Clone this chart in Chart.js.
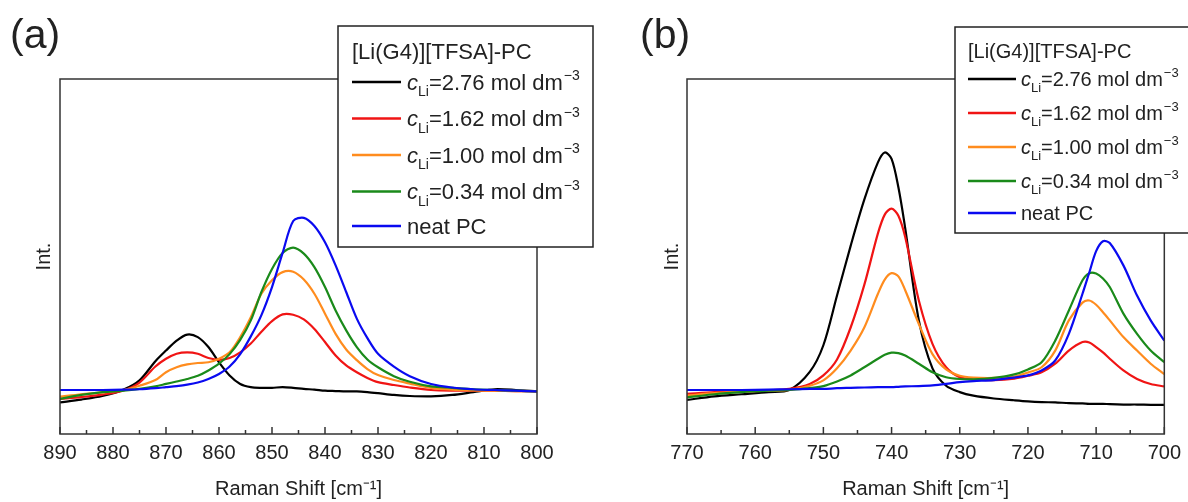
<!DOCTYPE html>
<html>
<head>
<meta charset="utf-8">
<script src="https://cdn.jsdelivr.net/npm/chart.js@4.4.0/dist/chart.umd.min.js"></script>
<style>
  body { margin: 0; background: #fff; }
  #wrap { position: relative; width: 1188px; height: 502px; }
  .panel { position: absolute; top: 0; width: 594px; height: 502px; }
</style>
</head>
<body>
<div id="wrap">
  <div class="panel" style="left:0"><canvas id="chart-a" width="594" height="502"></canvas></div>
  <div class="panel" style="left:594px"><canvas id="chart-b" width="594" height="502"></canvas></div>
</div>
<script>
'use strict';

// series names, same for both panels
var legendTitle = '[Li(G4)][TFSA]-PC';
var concentrations = ['2.76', '1.62', '1.00', '0.34'];
var neatLabel = 'neat PC';
var seriesColors = ['#000000', '#f01414', '#ff8c1e', '#1a8a1a', '#0a0af0'];

// panel (a): 890 - 800 cm-1
var shiftA = [890, 886, 882, 878, 875, 872, 870, 868, 866, 864, 862, 860, 858, 856, 854, 852, 850, 848, 846, 844, 842, 840, 838, 836, 834, 832, 830, 827, 824, 820, 816, 812, 808, 804, 800];
var a276 = [8.9, 9.7, 10.7, 12.5, 15.1, 20.5, 23.5, 26.3, 28.0, 27.3, 24.5, 20.2, 16.5, 14.1, 13.2, 13.0, 13.0, 13.2, 13.0, 12.7, 12.5, 12.2, 12.1, 12.0, 12.0, 11.8, 11.5, 11.0, 10.7, 10.6, 11.0, 11.8, 12.6, 12.4, 12.0];
var a162 = [9.9, 10.4, 11.1, 12.3, 14.5, 19.0, 21.2, 22.6, 23.0, 22.6, 21.4, 20.9, 21.4, 23.0, 25.5, 28.8, 31.8, 33.7, 33.6, 32.3, 29.6, 25.9, 22.1, 19.3, 17.4, 15.8, 14.6, 13.8, 13.1, 12.4, 12.2, 12.2, 12.2, 12.1, 12.0];
var a100 = [10.5, 11.2, 11.7, 12.4, 13.6, 15.2, 17.4, 18.8, 19.6, 20.0, 20.2, 21.2, 23.0, 27.3, 32.9, 39.5, 43.3, 45.6, 45.7, 43.5, 39.5, 33.9, 28.2, 23.8, 20.8, 18.3, 16.6, 15.2, 14.2, 13.0, 12.5, 12.3, 12.2, 12.1, 12.0];
var a034 = [9.9, 11.0, 11.8, 12.2, 12.7, 13.4, 14.1, 14.8, 15.5, 16.4, 17.9, 19.8, 22.5, 26.5, 32.0, 40.0, 46.5, 51.0, 52.5, 50.8, 47.0, 41.4, 34.8, 29.2, 24.5, 21.0, 18.8, 16.3, 14.7, 13.4, 13.0, 12.6, 12.4, 12.2, 12.0];
var aNeat = [12.4, 12.4, 12.4, 12.5, 12.6, 12.9, 13.2, 13.5, 13.9, 14.5, 15.5, 16.9, 19.0, 22.5, 27.5, 33.5, 41.4, 51.0, 60.0, 60.9, 58.6, 54.0, 47.5, 40.0, 32.5, 27.0, 22.6, 19.0, 16.3, 14.1, 13.1, 12.6, 12.4, 12.2, 12.0];

// panel (b): 770 - 700 cm-1
var shiftB = [770, 766, 762, 758, 755, 752, 750, 748, 746, 744, 742, 741, 740, 739, 738, 736, 734, 732, 730, 728, 725, 722, 720, 718, 716, 714, 712, 711, 710, 709, 708, 706, 704, 702, 700];
var b276 = [9.6, 10.6, 11.2, 11.8, 12.4, 17.5, 25.0, 39.0, 53.0, 66.0, 76.5, 79.3, 77.5, 69.5, 58.0, 32.0, 18.5, 13.6, 11.8, 10.8, 10.0, 9.5, 9.2, 9.0, 8.9, 8.7, 8.6, 8.5, 8.5, 8.5, 8.4, 8.3, 8.3, 8.2, 8.2];
var b162 = [11.3, 11.8, 12.0, 12.3, 12.7, 14.1, 16.5, 21.0, 30.0, 42.0, 56.5, 61.8, 63.5, 61.5, 55.5, 37.6, 25.4, 18.8, 16.0, 15.4, 15.2, 15.6, 16.4, 17.4, 19.8, 23.5, 25.9, 25.8, 24.5, 23.0, 21.2, 17.9, 15.5, 14.1, 13.4];
var b100 = [10.8, 11.5, 11.9, 12.2, 12.4, 13.6, 15.1, 18.5, 23.5, 30.0, 39.5, 43.5, 45.3, 44.4, 40.5, 31.0, 22.5, 18.2, 16.4, 15.9, 15.8, 16.2, 17.3, 18.8, 23.5, 32.0, 37.0, 37.6, 36.4, 34.3, 32.0, 27.3, 23.5, 19.8, 16.9];
var b034 = [10.3, 11.2, 11.8, 12.2, 12.4, 12.9, 13.5, 14.8, 16.5, 18.8, 21.2, 22.3, 22.9, 22.8, 22.1, 19.8, 17.4, 16.0, 15.5, 15.4, 15.8, 16.8, 18.2, 20.2, 26.3, 34.8, 43.3, 45.3, 45.2, 43.8, 41.4, 33.9, 28.2, 23.5, 20.2];
var bNeat = [12.4, 12.4, 12.4, 12.5, 12.6, 12.7, 12.7, 12.9, 13.0, 13.1, 13.2, 13.2, 13.2, 13.3, 13.4, 13.5, 13.7, 14.1, 14.6, 14.9, 15.2, 15.9, 16.5, 17.9, 20.7, 28.2, 39.5, 45.5, 51.5, 54.3, 53.8, 47.5, 39.0, 32.0, 26.3];

var fontFamily = 'Arial, "Liberation Sans", Helvetica, sans-serif';
var textColor = '#222';

function makePoints(xs, ys){
  var pts = [];
  for(var i = 0; i < xs.length; i++){
    pts.push({x: xs[i], y: ys[i]});
  }
  return pts;
}

function buildDatasets(xs, seriesList){
  var sets = [];
  for(var i = 0; i < seriesList.length; i++){
    sets.push({
      label: i < concentrations.length ? 'cLi=' + concentrations[i] + ' mol dm-3' : neatLabel,
      data: makePoints(xs, seriesList[i]),
      borderColor: seriesColors[i],
      backgroundColor: seriesColors[i],
      borderWidth: 2.2,
      pointRadius: 0,
      tension: 0.3,
      //neat PC on top
      order: seriesList.length - 1 - i
    });
  }
  return sets;
}

//frame, inward ticks, panel letter and the legend box
var decorPlugin = {
  id: 'decor',
  afterDraw: function(chart, args, opts){
    var ctx = chart.ctx;
    var area = chart.chartArea;
    var xs = chart.scales.x;
    ctx.save();

    // inward ticks every 5, longer every 10
    ctx.strokeStyle = '#333';
    ctx.lineWidth = 1.5;
    for(var v = xs.min; v <= xs.max; v += 5){
      var px = xs.getPixelForValue(v);
      var len = (v % 10 === 0) ? 7 : 4;
      ctx.beginPath();
      ctx.moveTo(px, area.bottom);
      ctx.lineTo(px, area.bottom - len);
      ctx.stroke();
    }
    // frame
    ctx.strokeRect(area.left, area.top, area.right - area.left, area.bottom - area.top);

    // panel letter
    ctx.fillStyle = textColor;
    ctx.font = '41px ' + fontFamily;
    ctx.textBaseline = 'alphabetic';
    ctx.textAlign = 'left';
    ctx.fillText(opts.letter, opts.letterX, opts.letterY);

    // legend box
    var box = opts.box;
    ctx.fillStyle = '#fff';
    ctx.fillRect(box.x, box.y, box.w, box.h);
    ctx.strokeStyle = '#222';
    ctx.lineWidth = 1.5;
    ctx.strokeRect(box.x, box.y, box.w, box.h);

    var size = opts.fontSize;
    var sub = Math.round(size * 0.64);
    ctx.fillStyle = textColor;
    ctx.font = size + 'px ' + fontFamily;
    ctx.fillText(legendTitle, opts.titleX, opts.titleY + size * 0.36);

    var sets = chart.data.datasets;
    for(var i = 0; i < sets.length; i++){
      var rowY = opts.rowY + i * opts.rowGap - (i === sets.length - 1 ? opts.lastShift : 0);
      ctx.strokeStyle = sets[i].borderColor;
      ctx.lineWidth = 2.5;
      ctx.beginPath();
      ctx.moveTo(opts.lineX, rowY);
      ctx.lineTo(opts.lineX + opts.lineLen, rowY);
      ctx.stroke();

      var tx = opts.textX;
      var base = rowY + size * 0.36;
      ctx.fillStyle = textColor;
      if(i < concentrations.length){
        ctx.font = 'italic ' + size + 'px ' + fontFamily;
        ctx.fillText('c', tx, base);
        tx += ctx.measureText('c').width;
        ctx.font = sub + 'px ' + fontFamily;
        ctx.fillText('Li', tx, base + size * 0.28);
        tx += ctx.measureText('Li').width;
        ctx.font = size + 'px ' + fontFamily;
        var mid = '=' + concentrations[i] + ' mol dm';
        ctx.fillText(mid, tx, base);
        tx += ctx.measureText(mid).width;
        ctx.font = sub + 'px ' + fontFamily;
        ctx.fillText('\u22123', tx + 1, base - size * 0.45);
      }else{
        ctx.font = size + 'px ' + fontFamily;
        ctx.fillText(neatLabel, tx, base);
      }
    }
    ctx.restore();
  }
};

function drawPanel(canvasId, xs, seriesList, xMin, xMax, pad, yWidth, decor){
  var ctx = document.getElementById(canvasId).getContext('2d');
  return new Chart(ctx, {
    type: 'line',
    data: { datasets: buildDatasets(xs, seriesList) },
    options: {
      responsive: false,
      animation: false,
      devicePixelRatio: 1,
      layout: { padding: pad },
      plugins: {
        legend: { display: false },
        tooltip: { enabled: false },
        decor: decor
      },
      scales: {
        x: {
          type: 'linear',
          reverse: true,
          min: xMin,
          max: xMax,
          grid: { display: false, drawTicks: false },
          border: { display: false },
          ticks: {
            stepSize: 10,
            padding: 7,
            color: textColor,
            font: { family: fontFamily, size: 20 }
          },
          title: {
            display: true,
            text: 'Raman Shift [cm\u207B\u00B9]',
            color: textColor,
            font: { family: fontFamily, size: 20 },
            padding: { top: 0, bottom: 1 }
          },
          afterFit: function(scale){ scale.height = 68; }
        },
        y: {
          min: 0,
          max: 100,
          grid: { display: false, drawTicks: false },
          border: { display: false },
          ticks: { display: false },
          title: {
            display: true,
            text: 'Int.',
            color: textColor,
            font: { family: fontFamily, size: 20 },
            padding: { top: decor.intPad, bottom: 0 }
          },
          afterFit: function(scale){ scale.width = yWidth; }
        }
      }
    },
    plugins: [decorPlugin]
  });
}

drawPanel('chart-a', shiftA, [a276, a162, a100, a034, aNeat], 800, 890,
  { top: 79, right: 57, left: 0, bottom: 0 }, 60,
  {
    letter: '(a)', letterX: 10, letterY: 48, intPad: 32,
    box: { x: 338, y: 26, w: 255, h: 221 },
    fontSize: 22, titleX: 352, titleY: 51,
    rowY: 82, rowGap: 36.5, lastShift: 2,
    lineX: 352, lineLen: 49, textX: 407
  });

drawPanel('chart-b', shiftB, [b276, b162, b100, b034, bNeat], 700, 770,
  { top: 79, right: 21, left: 0, bottom: 0 }, 93,
  {
    letter: '(b)', letterX: 46, letterY: 48, intPad: 66,
    box: { x: 361, y: 27, w: 240, h: 206 },
    fontSize: 20, titleX: 374, titleY: 51,
    rowY: 79, rowGap: 34, lastShift: 2,
    lineX: 374, lineLen: 48, textX: 427
  });
</script>
</body>
</html>
